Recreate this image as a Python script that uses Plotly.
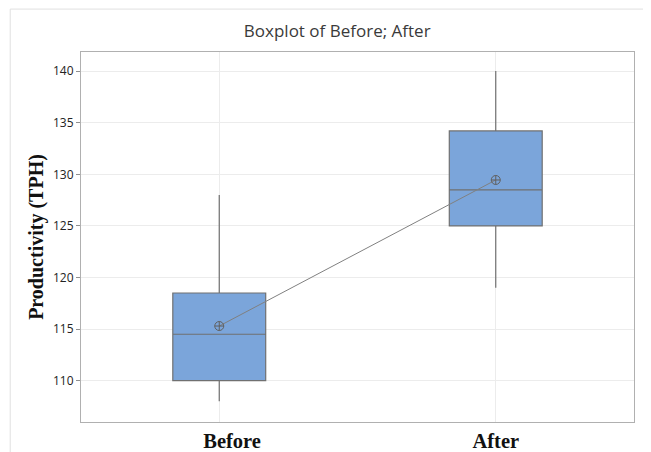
import plotly.graph_objects as go

categories = ["Before", "After"]
q1 = [110.0, 125.0]
median = [114.5, 128.5]
q3 = [118.5, 134.2]
lower_whisker = [108.0, 119.0]
upper_whisker = [128.0, 140.0]
means = [115.3, 129.45]
y_ticks = [110, 115, 120, 125, 130, 135, 140]
tick_labels = ["&nbsp;&nbsp;&nbsp;&nbsp;&nbsp;<b>Before</b>", "<b>After</b>"]

fig = go.Figure()
fig.add_trace(go.Box(
    x=categories, q1=q1, median=median, q3=q3,
    lowerfence=lower_whisker, upperfence=upper_whisker,
    width=0.336, fillcolor="#7BA5DA",
    line=dict(color="#707070", width=1.2),
    whiskerwidth=0, showlegend=False, hoverinfo="skip",
))
fig.add_trace(go.Scatter(
    x=categories, y=means, mode="lines+markers",
    line=dict(color="#808080", width=1),
    marker=dict(symbol="circle-cross-open", size=9, color="#606060", line=dict(width=1)),
    showlegend=False,
))

fig.update_layout(
    width=643, height=444,
    margin=dict(l=73, r=17, t=44, b=30),
    paper_bgcolor="white", plot_bgcolor="white",
    title=dict(text="Boxplot of Before; After", x=0.512, xanchor="center", y=0.948, yanchor="middle",
               font=dict(family="Open Sans", size=17, color="#3a3a3a")),
    xaxis=dict(range=[-0.5, 1.5], showgrid=True, gridcolor="#ececec", gridwidth=1,
               showline=True, linecolor="#b0b0b0", linewidth=1, mirror=True, automargin=False,
               ticks="", tickfont=dict(family="Liberation Serif", size=20.5, color="#111111"),
               tickvals=categories, ticktext=tick_labels,
               zeroline=False),
    yaxis=dict(range=[106.0, 141.85], tickvals=y_ticks, showgrid=True, gridcolor="#ececec", gridwidth=1,
               showline=True, linecolor="#b0b0b0", linewidth=1, mirror=True, automargin=False,
               ticks="outside", ticklen=4, tickcolor="#909090",
               tickfont=dict(family="Open Sans", size=12, color="#222222"),
               title=dict(text="<b>Productivity (TPH)</b>", standoff=4,
                          font=dict(family="Liberation Serif", size=20, color="#111111")),
               zeroline=False),
)

# outer frame lines (light gray)
fig.add_shape(type="line", xref="paper", yref="paper", x0=-0.128, x1=1.05, y0=1.116, y1=1.116,
              line=dict(color="#e0e0e0", width=1))
fig.add_shape(type="line", xref="paper", yref="paper", x0=-0.128, x1=-0.128, y0=1.116, y1=-0.1,
              line=dict(color="#e0e0e0", width=1))

fig.write_html("out.html")
